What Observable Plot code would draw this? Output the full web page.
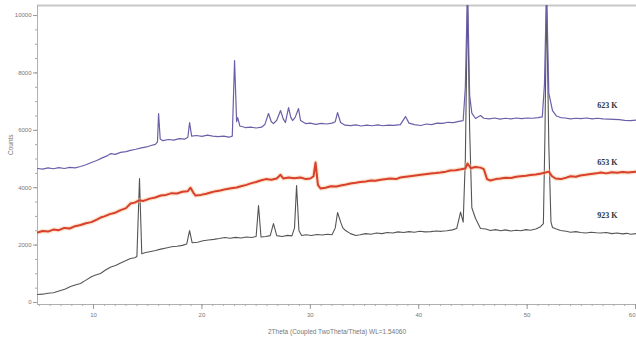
<!DOCTYPE html>
<html><head><meta charset="utf-8">
<script src="https://cdn.jsdelivr.net/npm/d3@7"></script>
<script src="https://cdn.jsdelivr.net/npm/@observablehq/plot@0.6"></script>
<style>body{margin:0;background:#fff} svg{display:block}</style>
</head><body><div id="chart"></div>
<script>
const xTicks = [10, 20, 30, 40, 50, 60];
const yTicks = [0, 2000, 4000, 6000, 8000, 10000];
const xLabel = "2Theta (Coupled TwoTheta/Theta) WL=1.54060";
const yLabel = "Counts";

const s623 = [[4.83,4670],[5.3,4650],[5.8,4690],[6.3,4660],[6.8,4700],[7.3,4670],[7.8,4710],[8.3,4690],[8.8,4740],[9.3,4800],[9.8,4880],[10.3,4950],[10.8,5040],[11.3,5120],[11.6,5190],[12.0,5160],[12.5,5230],[13.0,5260],[13.4,5300],[13.9,5340],[14.4,5390],[14.9,5420],[15.3,5470],[15.7,5510],[15.9,5600],[16.0,6585],[16.15,5700],[16.4,5640],[16.9,5680],[17.4,5660],[17.9,5710],[18.4,5690],[18.7,5760],[18.86,6271],[19.05,5800],[19.5,5820],[20.0,5790],[20.5,5830],[21.0,5800],[21.5,5780],[22.0,5800],[22.5,5760],[22.8,5800],[23.01,8431],[23.2,6300],[23.3,6445],[23.5,6150],[24.0,6097],[24.5,6110],[25.0,6080],[25.5,6110],[25.8,6200],[26.14,6585],[26.4,6300],[26.6,6236],[26.9,6350],[27.25,6689],[27.5,6400],[27.7,6271],[27.99,6794],[28.2,6450],[28.36,6341],[28.6,6450],[28.91,6759],[29.1,6341],[29.56,6236],[30.0,6250],[30.5,6210],[31.0,6240],[31.5,6220],[32.0,6250],[32.3,6300],[32.51,6620],[32.79,6271],[33.2,6180],[33.7,6167],[34.2,6190],[34.7,6150],[35.2,6180],[35.7,6160],[36.2,6190],[36.7,6160],[37.2,6180],[37.7,6170],[38.3,6200],[38.78,6480],[39.1,6250],[39.6,6200],[40.2,6167],[40.7,6220],[41.2,6200],[41.7,6250],[42.2,6240],[42.7,6280],[43.2,6270],[43.7,6310],[44.1,6340],[44.3,7500],[44.5,11000],[44.7,7200],[44.9,6600],[45.24,6411],[45.7,6515],[46.0,6420],[46.5,6400],[47.0,6430],[47.5,6390],[48.0,6420],[48.5,6400],[49.0,6430],[49.5,6410],[50.0,6430],[50.5,6420],[51.0,6440],[51.4,6470],[51.6,7600],[51.79,11000],[52.0,7300],[52.34,6689],[52.7,6500],[53.08,6445],[53.5,6430],[54.0,6400],[54.5,6420],[54.93,6411],[55.5,6430],[56.0,6400],[56.5,6420],[57.0,6400],[57.5,6390],[58.0,6380],[58.5,6370],[59.0,6350],[59.54,6341],[60.09,6360]];

const s653 = [[4.83,2440],[5.3,2490],[5.8,2470],[6.3,2540],[6.8,2520],[7.3,2600],[7.8,2580],[8.3,2660],[8.8,2700],[9.3,2760],[9.8,2800],[10.3,2890],[10.65,2961],[11.0,3000],[11.5,3080],[12.0,3130],[12.5,3220],[13.0,3290],[13.41,3449],[13.8,3480],[14.2,3560],[14.6,3540],[15.2,3620],[15.7,3660],[16.2,3728],[16.7,3750],[17.2,3810],[17.7,3800],[18.2,3860],[18.7,3880],[18.95,4000],[19.2,3830],[19.41,3728],[19.9,3750],[20.4,3790],[20.8,3832],[21.3,3880],[21.7,3900],[22.2,3950],[22.7,3980],[23.2,4007],[23.6,4050],[24.1,4100],[24.5,4150],[25.0,4200],[25.4,4250],[25.9,4300],[26.4,4280],[26.9,4320],[27.25,4450],[27.5,4320],[28.0,4355],[28.5,4330],[29.1,4355],[29.6,4300],[30.0,4320],[30.3,4400],[30.48,4878],[30.7,4100],[30.94,3972],[31.4,4000],[31.9,4050],[32.4,4040],[32.8,4076],[33.3,4110],[33.7,4146],[34.2,4170],[34.6,4200],[35.1,4220],[35.6,4250],[36.0,4240],[36.5,4280],[37.0,4300],[37.4,4320],[37.9,4300],[38.3,4355],[38.8,4380],[39.2,4400],[39.7,4425],[40.2,4450],[40.6,4470],[41.1,4494],[41.6,4510],[42.0,4529],[42.5,4560],[42.9,4599],[43.4,4610],[43.9,4640],[44.3,4669],[44.5,4843],[44.8,4680],[45.2,4720],[45.7,4700],[46.0,4650],[46.3,4300],[46.6,4250],[47.1,4300],[47.55,4320],[48.0,4350],[48.5,4340],[49.0,4380],[49.4,4400],[49.9,4420],[50.3,4440],[50.8,4460],[51.2,4490],[51.7,4529],[52.0,4560],[52.3,4400],[52.62,4320],[53.1,4300],[53.6,4350],[54.0,4400],[54.5,4380],[54.9,4425],[55.4,4450],[55.9,4480],[56.4,4500],[56.8,4529],[57.3,4500],[57.8,4540],[58.3,4520],[58.8,4550],[59.3,4529],[59.54,4540],[60.09,4560]];

const s923 = [[4.83,279],[5.3,290],[5.8,320],[6.3,340],[6.96,418],[7.4,470],[7.88,560],[8.3,610],[8.8,662],[9.3,780],[9.8,900],[10.2,960],[10.65,1010],[11.1,1130],[11.6,1240],[12.03,1289],[12.5,1380],[13.0,1460],[13.41,1533],[13.8,1560],[14.0,1600],[14.24,4320],[14.45,1700],[14.8,1742],[15.3,1780],[15.72,1812],[16.2,1860],[16.7,1900],[17.2,1940],[17.7,1960],[18.2,1990],[18.6,2040],[18.86,2508],[19.1,2080],[19.6,2100],[20.1,2150],[20.6,2180],[21.1,2200],[21.6,2230],[22.1,2265],[22.6,2240],[23.1,2270],[23.6,2250],[24.1,2280],[24.6,2265],[25.0,2300],[25.22,3380],[25.45,2280],[25.9,2300],[26.3,2330],[26.6,2750],[26.9,2330],[27.4,2300],[27.9,2340],[28.3,2320],[28.54,2600],[28.73,4076],[28.95,2500],[29.2,2334],[29.6,2360],[30.1,2334],[30.6,2370],[31.1,2350],[31.6,2380],[32.0,2360],[32.3,2600],[32.51,3136],[32.8,2800],[33.0,2600],[33.25,2508],[33.7,2400],[34.2,2334],[34.6,2360],[35.1,2400],[35.6,2380],[36.1,2420],[36.6,2400],[37.1,2440],[37.6,2420],[38.1,2460],[38.6,2440],[39.1,2470],[39.6,2450],[40.1,2480],[40.6,2460],[41.1,2470],[41.6,2490],[42.1,2480],[42.6,2500],[43.1,2530],[43.5,2578],[43.86,3150],[44.1,2800],[44.3,5000],[44.5,10600],[44.7,6000],[44.9,3300],[45.24,2927],[45.7,2578],[46.2,2560],[46.6,2508],[47.1,2540],[47.55,2500],[48.0,2530],[48.5,2490],[49.0,2520],[49.4,2500],[49.9,2540],[50.3,2520],[50.8,2560],[51.24,2640],[51.5,2750],[51.65,6000],[51.79,10600],[52.0,5500],[52.2,2800],[52.34,2613],[52.7,2560],[53.08,2508],[53.6,2480],[54.0,2450],[54.5,2470],[54.93,2439],[55.4,2420],[55.9,2450],[56.4,2430],[56.77,2420],[57.3,2440],[57.8,2400],[58.3,2420],[58.8,2390],[59.2,2410],[59.54,2380],[60.09,2400]];

const seriesLabels = [
  {text: "623 K", x: 57.4, y: 6860},
  {text: "653 K", x: 57.4, y: 4880},
  {text: "923 K", x: 57.4, y: 3030}
];

const X0 = 4.83, X1 = 60.09, Y0 = -70, Y1 = 10350;
const fx = d => d[0], fy = d => d[1];
const lastX = xTicks[xTicks.length - 1];

const chart = Plot.plot({
  width: 636, height: 342,
  marginLeft: 37, marginRight: 0, marginTop: 5, marginBottom: 38,
  style: {fontFamily: "'Liberation Sans', Arial, sans-serif", background: "#fff"},
  x: {domain: [X0, X1]},
  y: {domain: [Y0, Y1]},
  marks: [
    Plot.ruleY([Y1], {stroke: "#c8c8c8", strokeWidth: 2}),
    Plot.ruleX([X0], {stroke: "#b0b0b0"}),
    Plot.ruleY([Y0], {stroke: "#b0b0b0"}),
    Plot.axisX({ticks: d3.range(5, 61, 1), tickSize: 2, tickFormat: () => "", stroke: "#aaa", label: null}),
    Plot.axisX({ticks: xTicks, tickSize: 5, tickFormat: () => "", stroke: "#999", label: null}),
    Plot.text(xTicks.filter(d => d < lastX), {x: d => d, frameAnchor: "bottom", dy: 12, fontSize: 6, fill: "#777"}),
    Plot.text([lastX], {x: d => d, frameAnchor: "bottom", dy: 12, textAnchor: "end", fontSize: 6, fill: "#777"}),
    Plot.axisY({ticks: d3.range(0, 10001, 500), tickSize: 2, tickFormat: () => "", stroke: "#aaa", label: null}),
    Plot.axisY({ticks: yTicks, tickSize: 4, tickPadding: 2, tickFormat: d3.format("d"), fontSize: 6, fill: "#777", stroke: "#999", label: null}),
    Plot.text([xLabel], {frameAnchor: "bottom", dy: 29, fontSize: 6.5, fill: "#777"}),
    Plot.text([yLabel], {frameAnchor: "left", dx: -27, rotate: -90, fontSize: 6.5, fill: "#777"}),
    Plot.line(s923, {x: fx, y: fy, stroke: "#555555", strokeWidth: 1.1, clip: true}),
    Plot.line(s653, {x: fx, y: fy, stroke: "#f5c89a", strokeWidth: 4.5, strokeOpacity: 0.45, clip: true}),
    Plot.line(s653, {x: fx, y: fy, stroke: "#d9402c", strokeWidth: 2, clip: true}),
    Plot.line(s623, {x: fx, y: fy, stroke: "#6a60a8", strokeWidth: 1.2, clip: true}),
    Plot.text(seriesLabels, {x: "x", y: "y", text: "text", fontSize: 8, fontWeight: "bold", fontFamily: "'Liberation Serif', serif", fill: "#333"})
  ]
});
document.getElementById("chart").appendChild(chart);
</script>
</body></html>
